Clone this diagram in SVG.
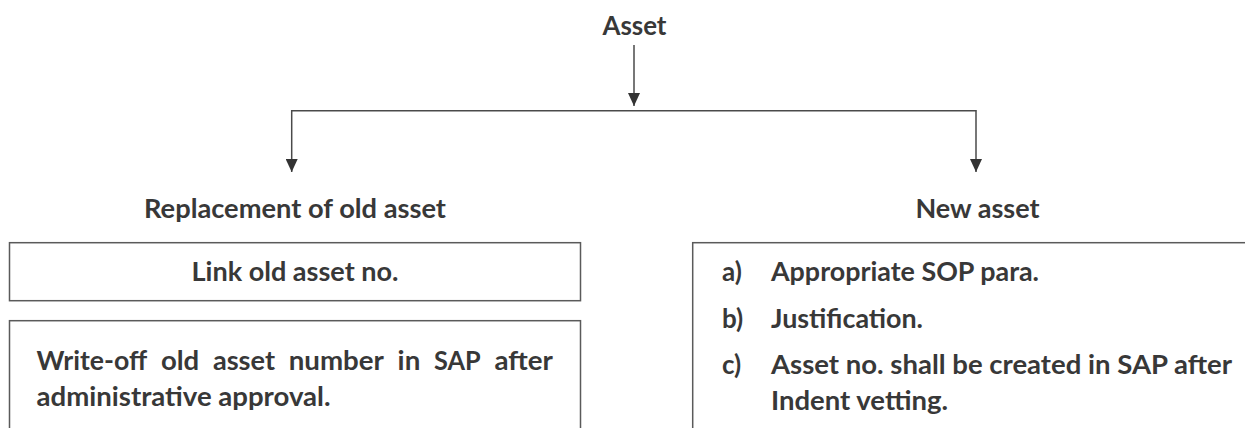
<svg xmlns="http://www.w3.org/2000/svg" width="1245" height="428" viewBox="0 0 1245 428">
<style>
  .t { font-family: Lato, "Open Sans", "Liberation Sans", sans-serif; font-weight: bold; font-size: 26px; fill: #383838; }
  .c { text-anchor: middle; }
  .box { fill: #ffffff; stroke: #5a5a5a; stroke-width: 1.5; }
  .conn { fill: none; stroke: #4a4a4a; stroke-width: 1.5; }
</style>
<defs>
  <marker id="arr" markerUnits="userSpaceOnUse" markerWidth="14" markerHeight="12" viewBox="0 0 14 12" refX="13" refY="6" orient="auto">
    <path d="M0,0 L13,6 L0,12 Z" fill="#333333"/>
  </marker>
</defs>
<rect width="1245" height="428" fill="#ffffff"/>

<g id="connectors">
  <line class="conn" x1="634" y1="45" x2="634" y2="106" marker-end="url(#arr)"/>
  <line class="conn" x1="291.5" y1="110.7" x2="976.2" y2="110.7"/>
  <line class="conn" x1="291.7" y1="110" x2="291.7" y2="172" marker-end="url(#arr)"/>
  <line class="conn" x1="976" y1="110" x2="976" y2="172" marker-end="url(#arr)"/>
</g>

<g id="node-asset">
  <text class="t c" x="634.5" y="35" textLength="64" lengthAdjust="spacingAndGlyphs">Asset</text>
</g>

<g id="node-replacement">
  <text class="t c" x="295" y="218" textLength="302" lengthAdjust="spacingAndGlyphs">Replacement of old asset</text>
</g>

<g id="node-new">
  <text class="t c" x="977.5" y="218" textLength="124" lengthAdjust="spacingAndGlyphs">New asset</text>
</g>

<g id="node-link">
  <rect class="box" x="9.5" y="242.7" width="571" height="58"/>
  <text class="t c" x="295" y="281" textLength="207" lengthAdjust="spacingAndGlyphs">Link old asset no.</text>
</g>

<g id="node-writeoff">
  <rect class="box" x="9.5" y="320.7" width="571" height="120"/>
  <text class="t" x="36.5" y="370" textLength="110.7" lengthAdjust="spacingAndGlyphs">Write-off</text>
  <text class="t" x="160.9" y="370" textLength="38.3" lengthAdjust="spacingAndGlyphs">old</text>
  <text class="t" x="212.9" y="370" textLength="62.1" lengthAdjust="spacingAndGlyphs">asset</text>
  <text class="t" x="288.7" y="370" textLength="95.2" lengthAdjust="spacingAndGlyphs">number</text>
  <text class="t" x="397.6" y="370" textLength="22.7" lengthAdjust="spacingAndGlyphs">in</text>
  <text class="t" x="434" y="370" textLength="46.7" lengthAdjust="spacingAndGlyphs">SAP</text>
  <text class="t" x="494.4" y="370" textLength="58.4" lengthAdjust="spacingAndGlyphs">after</text>
  <text class="t" x="36.5" y="406" textLength="294" lengthAdjust="spacingAndGlyphs">administrative approval.</text>
</g>

<g id="node-new-details">
  <rect class="box" x="692.7" y="242.7" width="600" height="200"/>
  <text class="t" x="722" y="281">a)</text>
  <text class="t" x="771" y="281" textLength="268" lengthAdjust="spacingAndGlyphs">Appropriate SOP para.</text>
  <text class="t" x="722" y="327.5">b)</text>
  <text class="t" x="771" y="327.5" textLength="152" lengthAdjust="spacingAndGlyphs">Justification.</text>
  <text class="t" x="722" y="374">c)</text>
  <text class="t" x="771" y="374" textLength="461" lengthAdjust="spacingAndGlyphs">Asset no. shall be created in SAP after</text>
  <text class="t" x="771" y="410" textLength="177" lengthAdjust="spacingAndGlyphs">Indent vetting.</text>
</g>
</svg>
